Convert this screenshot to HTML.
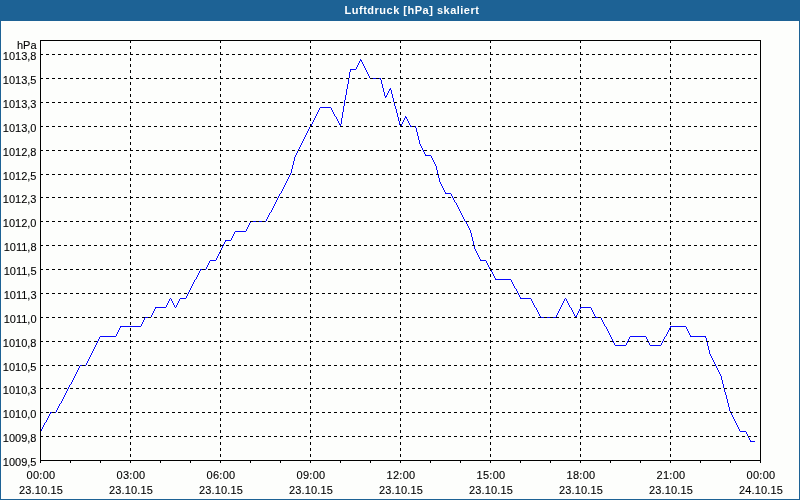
<!DOCTYPE html>
<html><head><meta charset="utf-8"><title>Luftdruck [hPa] skaliert</title>
<style>
html,body{margin:0;padding:0;}
body{width:800px;height:500px;overflow:hidden;background:#fdfefc;position:relative;font-family:"Liberation Sans",sans-serif;font-size:11px;color:#000;-webkit-text-stroke:0.1px #000;}
#frame{position:absolute;left:0;top:0;width:798px;height:498px;border:1px solid #1d6295;}
#hdr{position:absolute;left:0;top:0;width:800px;height:21px;background:#1d6295;}
#title{-webkit-text-stroke:0;letter-spacing:0.5px;position:absolute;left:312px;top:0;width:200px;height:20px;line-height:20px;text-align:center;color:#fff;font-weight:bold;font-size:11px;white-space:nowrap;}
.yl{position:absolute;left:0;width:36.5px;text-align:right;height:12px;line-height:12px;white-space:nowrap;}
.xl{position:absolute;width:60px;text-align:center;height:12px;line-height:12px;white-space:nowrap;}
svg{position:absolute;left:0;top:0;}
</style></head><body>
<div id="frame"></div>
<div id="hdr"></div>
<div id="title">Luftdruck [hPa] skaliert</div>

<svg width="800" height="500" viewBox="0 0 800 500" shape-rendering="crispEdges">
<path d="M50 412h6v1h-6zM80 365h6v1h-6zM100 336h16v1h-16zM120 326h21v1h-21zM145 317h6v1h-6zM155 307h11v1h-11zM180 298h6v1h-6zM200 269h6v1h-6zM210 260h6v1h-6zM225 240h6v1h-6zM235 231h11v1h-11zM250 221h16v1h-16zM320 107h11v1h-11zM339 124h2v1h-2zM350 69h6v1h-6zM360 60h2v1h-2zM370 78h11v1h-11zM385 96h2v1h-2zM389 89h2v1h-2zM400 125h2v1h-2zM405 117h2v1h-2zM410 126h6v1h-6zM425 155h6v1h-6zM445 193h6v1h-6zM480 260h6v1h-6zM495 279h16v1h-16zM520 298h11v1h-11zM540 317h16v1h-16zM575 316h2v1h-2zM580 307h11v1h-11zM595 317h6v1h-6zM615 345h11v1h-11zM630 336h16v1h-16zM650 345h11v1h-11zM670 326h16v1h-16zM690 336h16v1h-16zM740 431h6v1h-6zM750 441h5v1h-5zM40 431h1v1h-1zM41 429h1v2h-1zM42 427h1v2h-1zM43 425h1v2h-1zM44 423h1v2h-1zM45 422h1v1h-1zM46 420h1v2h-1zM47 418h1v2h-1zM48 416h1v2h-1zM49 414h1v2h-1zM50 413h1v1h-1zM56 410h1v2h-1zM57 408h1v2h-1zM58 406h1v2h-1zM59 404h1v2h-1zM60 403h1v1h-1zM61 401h1v2h-1zM62 399h1v2h-1zM63 397h1v2h-1zM64 395h1v2h-1zM65 393h1v2h-1zM66 391h1v2h-1zM67 389h1v2h-1zM68 387h1v2h-1zM69 385h1v2h-1zM70 384h1v1h-1zM71 382h1v2h-1zM72 380h1v2h-1zM73 378h1v2h-1zM74 376h1v2h-1zM75 374h1v2h-1zM76 372h1v2h-1zM77 370h1v2h-1zM78 368h1v2h-1zM79 366h1v2h-1zM86 363h1v2h-1zM87 361h1v2h-1zM88 359h1v2h-1zM89 357h1v2h-1zM90 355h1v2h-1zM91 353h1v2h-1zM92 351h1v2h-1zM93 349h1v2h-1zM94 347h1v2h-1zM95 345h1v2h-1zM96 343h1v2h-1zM97 341h1v2h-1zM98 339h1v2h-1zM99 337h1v2h-1zM116 334h1v2h-1zM117 332h1v2h-1zM118 330h1v2h-1zM119 328h1v2h-1zM120 327h1v1h-1zM141 324h1v2h-1zM142 322h1v2h-1zM143 320h1v2h-1zM144 318h1v2h-1zM151 315h1v2h-1zM152 313h1v2h-1zM153 311h1v2h-1zM154 309h1v2h-1zM155 308h1v1h-1zM166 305h1v2h-1zM167 303h1v2h-1zM168 301h1v2h-1zM169 299h1v2h-1zM170 298h1v1h-1zM171 299h1v2h-1zM172 301h1v2h-1zM173 303h1v2h-1zM174 305h1v2h-1zM175 307h1v1h-1zM176 305h1v2h-1zM177 303h1v2h-1zM178 301h1v2h-1zM179 299h1v2h-1zM186 296h1v2h-1zM187 294h1v2h-1zM188 292h1v2h-1zM189 290h1v2h-1zM190 288h1v2h-1zM191 286h1v2h-1zM192 284h1v2h-1zM193 282h1v2h-1zM194 280h1v2h-1zM195 279h1v1h-1zM196 277h1v2h-1zM197 275h1v2h-1zM198 273h1v2h-1zM199 271h1v2h-1zM200 270h1v1h-1zM206 267h1v2h-1zM207 265h1v2h-1zM208 263h1v2h-1zM209 261h1v2h-1zM216 258h1v2h-1zM217 256h1v2h-1zM218 254h1v2h-1zM219 252h1v2h-1zM220 250h1v2h-1zM221 248h1v2h-1zM222 246h1v2h-1zM223 244h1v2h-1zM224 242h1v2h-1zM225 241h1v1h-1zM231 238h1v2h-1zM232 236h1v2h-1zM233 234h1v2h-1zM234 232h1v2h-1zM246 229h1v2h-1zM247 227h1v2h-1zM248 225h1v2h-1zM249 223h1v2h-1zM250 222h1v1h-1zM266 219h1v2h-1zM267 217h1v2h-1zM268 215h1v2h-1zM269 213h1v2h-1zM270 212h1v1h-1zM271 210h1v2h-1zM272 208h1v2h-1zM273 206h1v2h-1zM274 204h1v2h-1zM275 202h1v2h-1zM276 200h1v2h-1zM277 198h1v2h-1zM278 196h1v2h-1zM279 194h1v2h-1zM280 193h1v1h-1zM281 191h1v2h-1zM282 189h1v2h-1zM283 187h1v2h-1zM284 185h1v2h-1zM285 183h1v2h-1zM286 181h1v2h-1zM287 179h1v2h-1zM288 177h1v2h-1zM289 175h1v2h-1zM290 173h1v2h-1zM291 169h1v4h-1zM292 165h1v4h-1zM293 161h1v4h-1zM294 157h1v4h-1zM295 155h1v2h-1zM296 153h1v2h-1zM297 151h1v2h-1zM298 149h1v2h-1zM299 147h1v2h-1zM300 145h1v2h-1zM301 143h1v2h-1zM302 141h1v2h-1zM303 139h1v2h-1zM304 137h1v2h-1zM305 135h1v2h-1zM306 133h1v2h-1zM307 131h1v2h-1zM308 129h1v2h-1zM309 127h1v2h-1zM310 126h1v1h-1zM311 124h1v2h-1zM312 122h1v2h-1zM313 120h1v2h-1zM314 118h1v2h-1zM315 116h1v2h-1zM316 114h1v2h-1zM317 112h1v2h-1zM318 110h1v2h-1zM319 108h1v2h-1zM331 108h1v2h-1zM332 110h1v2h-1zM333 112h1v2h-1zM334 114h1v2h-1zM335 116h1v1h-1zM336 117h1v2h-1zM337 119h1v2h-1zM338 121h1v2h-1zM339 123h1v1h-1zM340 125h1v2h-1zM341 118h1v6h-1zM342 112h1v6h-1zM343 106h1v6h-1zM344 100h1v6h-1zM345 95h1v5h-1zM346 89h1v6h-1zM347 84h1v5h-1zM348 78h1v6h-1zM349 72h1v6h-1zM350 70h1v2h-1zM356 67h1v2h-1zM357 65h1v2h-1zM358 63h1v2h-1zM359 61h1v2h-1zM360 59h1v1h-1zM361 61h1v1h-1zM362 62h1v2h-1zM363 64h1v2h-1zM364 66h1v2h-1zM365 68h1v2h-1zM366 70h1v2h-1zM367 72h1v2h-1zM368 74h1v2h-1zM369 76h1v2h-1zM380 79h1v1h-1zM381 80h1v4h-1zM382 84h1v4h-1zM383 88h1v4h-1zM384 92h1v4h-1zM385 97h1v1h-1zM386 95h1v1h-1zM387 93h1v2h-1zM388 91h1v2h-1zM389 90h1v1h-1zM390 88h1v1h-1zM391 90h1v4h-1zM392 94h1v4h-1zM393 98h1v4h-1zM394 102h1v4h-1zM395 106h1v3h-1zM396 109h1v4h-1zM397 113h1v4h-1zM398 117h1v4h-1zM399 121h1v4h-1zM400 126h1v1h-1zM401 124h1v1h-1zM402 122h1v2h-1zM403 120h1v2h-1zM404 118h1v2h-1zM405 116h1v1h-1zM406 118h1v1h-1zM407 119h1v2h-1zM408 121h1v2h-1zM409 123h1v2h-1zM410 125h1v1h-1zM415 127h1v1h-1zM416 128h1v4h-1zM417 132h1v4h-1zM418 136h1v4h-1zM419 140h1v4h-1zM420 144h1v2h-1zM421 146h1v2h-1zM422 148h1v2h-1zM423 150h1v2h-1zM424 152h1v2h-1zM425 154h1v1h-1zM431 156h1v2h-1zM432 158h1v2h-1zM433 160h1v2h-1zM434 162h1v2h-1zM435 164h1v2h-1zM436 166h1v4h-1zM437 170h1v4h-1zM438 174h1v4h-1zM439 178h1v4h-1zM440 182h1v2h-1zM441 184h1v2h-1zM442 186h1v2h-1zM443 188h1v2h-1zM444 190h1v2h-1zM445 192h1v1h-1zM451 194h1v2h-1zM452 196h1v2h-1zM453 198h1v2h-1zM454 200h1v2h-1zM455 202h1v1h-1zM456 203h1v2h-1zM457 205h1v2h-1zM458 207h1v2h-1zM459 209h1v2h-1zM460 211h1v2h-1zM461 213h1v2h-1zM462 215h1v2h-1zM463 217h1v2h-1zM464 219h1v2h-1zM465 221h1v1h-1zM466 222h1v2h-1zM467 224h1v2h-1zM468 226h1v2h-1zM469 228h1v2h-1zM470 230h1v3h-1zM471 233h1v4h-1zM472 237h1v4h-1zM473 241h1v4h-1zM474 245h1v4h-1zM475 249h1v2h-1zM476 251h1v2h-1zM477 253h1v2h-1zM478 255h1v2h-1zM479 257h1v2h-1zM480 259h1v1h-1zM486 261h1v2h-1zM487 263h1v2h-1zM488 265h1v2h-1zM489 267h1v2h-1zM490 269h1v1h-1zM491 270h1v2h-1zM492 272h1v2h-1zM493 274h1v2h-1zM494 276h1v2h-1zM495 278h1v1h-1zM511 280h1v2h-1zM512 282h1v2h-1zM513 284h1v2h-1zM514 286h1v2h-1zM515 288h1v1h-1zM516 289h1v2h-1zM517 291h1v2h-1zM518 293h1v2h-1zM519 295h1v2h-1zM520 297h1v1h-1zM531 299h1v2h-1zM532 301h1v2h-1zM533 303h1v2h-1zM534 305h1v2h-1zM535 307h1v1h-1zM536 308h1v2h-1zM537 310h1v2h-1zM538 312h1v2h-1zM539 314h1v2h-1zM540 316h1v1h-1zM556 315h1v2h-1zM557 313h1v2h-1zM558 311h1v2h-1zM559 309h1v2h-1zM560 307h1v2h-1zM561 305h1v2h-1zM562 303h1v2h-1zM563 301h1v2h-1zM564 299h1v2h-1zM565 298h1v1h-1zM566 299h1v2h-1zM567 301h1v2h-1zM568 303h1v2h-1zM569 305h1v2h-1zM570 307h1v1h-1zM571 308h1v2h-1zM572 310h1v2h-1zM573 312h1v2h-1zM574 314h1v2h-1zM575 317h1v1h-1zM576 315h1v1h-1zM577 313h1v2h-1zM578 311h1v2h-1zM579 309h1v2h-1zM580 308h1v1h-1zM591 308h1v2h-1zM592 310h1v2h-1zM593 312h1v2h-1zM594 314h1v2h-1zM595 316h1v1h-1zM601 318h1v2h-1zM602 320h1v2h-1zM603 322h1v2h-1zM604 324h1v2h-1zM605 326h1v1h-1zM606 327h1v2h-1zM607 329h1v2h-1zM608 331h1v2h-1zM609 333h1v2h-1zM610 335h1v2h-1zM611 337h1v2h-1zM612 339h1v2h-1zM613 341h1v2h-1zM614 343h1v2h-1zM626 343h1v2h-1zM627 341h1v2h-1zM628 339h1v2h-1zM629 337h1v2h-1zM646 337h1v2h-1zM647 339h1v2h-1zM648 341h1v2h-1zM649 343h1v2h-1zM661 343h1v2h-1zM662 341h1v2h-1zM663 339h1v2h-1zM664 337h1v2h-1zM665 336h1v1h-1zM666 334h1v2h-1zM667 332h1v2h-1zM668 330h1v2h-1zM669 328h1v2h-1zM670 327h1v1h-1zM686 327h1v2h-1zM687 329h1v2h-1zM688 331h1v2h-1zM689 333h1v2h-1zM690 335h1v1h-1zM705 337h1v1h-1zM706 338h1v4h-1zM707 342h1v4h-1zM708 346h1v4h-1zM709 350h1v4h-1zM710 354h1v2h-1zM711 356h1v2h-1zM712 358h1v2h-1zM713 360h1v2h-1zM714 362h1v2h-1zM715 364h1v2h-1zM716 366h1v2h-1zM717 368h1v2h-1zM718 370h1v2h-1zM719 372h1v2h-1zM720 374h1v2h-1zM721 376h1v4h-1zM722 380h1v4h-1zM723 384h1v4h-1zM724 388h1v4h-1zM725 392h1v3h-1zM726 395h1v4h-1zM727 399h1v4h-1zM728 403h1v4h-1zM729 407h1v4h-1zM730 411h1v2h-1zM731 413h1v2h-1zM732 415h1v2h-1zM733 417h1v2h-1zM734 419h1v2h-1zM735 421h1v2h-1zM736 423h1v2h-1zM737 425h1v2h-1zM738 427h1v2h-1zM739 429h1v2h-1zM746 432h1v2h-1zM747 434h1v2h-1zM748 436h1v2h-1zM749 438h1v2h-1zM750 440h1v1h-1z" fill="#0808ff" stroke="none"/>
<path d="M40 436.5H760 M40 412.5H760 M40 388.5H760 M40 365.5H760 M40 341.5H760 M40 317.5H760 M40 293.5H760 M40 269.5H760 M40 245.5H760 M40 221.5H760 M40 197.5H760 M40 174.5H760 M40 150.5H760 M40 126.5H760 M40 102.5H760 M40 78.5H760 M40 54.5H760" stroke="#000" stroke-width="1" stroke-dasharray="3 3" fill="none"/>
<path d="M130.5 40V460 M220.5 40V460 M310.5 40V460 M400.5 40V460 M490.5 40V460 M580.5 40V460 M670.5 40V460" stroke="#000" stroke-width="1" stroke-dasharray="3 3" fill="none"/>
<path d="M40.5 460V463 M70.5 460V463 M100.5 460V463 M130.5 460V463 M160.5 460V463 M190.5 460V463 M220.5 460V463 M250.5 460V463 M280.5 460V463 M310.5 460V463 M340.5 460V463 M370.5 460V463 M400.5 460V463 M430.5 460V463 M460.5 460V463 M490.5 460V463 M520.5 460V463 M550.5 460V463 M580.5 460V463 M610.5 460V463 M640.5 460V463 M670.5 460V463 M700.5 460V463 M730.5 460V463 M760.5 460V463" stroke="#000" stroke-width="1" fill="none"/>
<rect x="40.5" y="40.5" width="720" height="420" fill="none" stroke="#000" stroke-width="1"/>
</svg>
<div class="yl" style="top:39px">hPa</div>
<div class="yl" style="top:456px">1009,5</div>
<div class="yl" style="top:432px">1009,8</div>
<div class="yl" style="top:408px">1010,0</div>
<div class="yl" style="top:384px">1010,3</div>
<div class="yl" style="top:361px">1010,5</div>
<div class="yl" style="top:337px">1010,8</div>
<div class="yl" style="top:313px">1011,0</div>
<div class="yl" style="top:289px">1011,3</div>
<div class="yl" style="top:265px">1011,5</div>
<div class="yl" style="top:241px">1011,8</div>
<div class="yl" style="top:217px">1012,0</div>
<div class="yl" style="top:193px">1012,3</div>
<div class="yl" style="top:170px">1012,5</div>
<div class="yl" style="top:146px">1012,8</div>
<div class="yl" style="top:122px">1013,0</div>
<div class="yl" style="top:98px">1013,3</div>
<div class="yl" style="top:74px">1013,5</div>
<div class="yl" style="top:50px">1013,8</div>
<div class="xl" style="left:11px;top:469px;letter-spacing:0.25px">00:00</div>
<div class="xl" style="left:11px;top:484px;letter-spacing:0.15px">23.10.15</div>
<div class="xl" style="left:101px;top:469px;letter-spacing:0.25px">03:00</div>
<div class="xl" style="left:101px;top:484px;letter-spacing:0.15px">23.10.15</div>
<div class="xl" style="left:191px;top:469px;letter-spacing:0.25px">06:00</div>
<div class="xl" style="left:191px;top:484px;letter-spacing:0.15px">23.10.15</div>
<div class="xl" style="left:281px;top:469px;letter-spacing:0.25px">09:00</div>
<div class="xl" style="left:281px;top:484px;letter-spacing:0.15px">23.10.15</div>
<div class="xl" style="left:371px;top:469px;letter-spacing:0.25px">12:00</div>
<div class="xl" style="left:371px;top:484px;letter-spacing:0.15px">23.10.15</div>
<div class="xl" style="left:461px;top:469px;letter-spacing:0.25px">15:00</div>
<div class="xl" style="left:461px;top:484px;letter-spacing:0.15px">23.10.15</div>
<div class="xl" style="left:551px;top:469px;letter-spacing:0.25px">18:00</div>
<div class="xl" style="left:551px;top:484px;letter-spacing:0.15px">23.10.15</div>
<div class="xl" style="left:641px;top:469px;letter-spacing:0.25px">21:00</div>
<div class="xl" style="left:641px;top:484px;letter-spacing:0.15px">23.10.15</div>
<div class="xl" style="left:731px;top:469px;letter-spacing:0.25px">00:00</div>
<div class="xl" style="left:731px;top:484px;letter-spacing:0.15px">24.10.15</div>
</body></html>
